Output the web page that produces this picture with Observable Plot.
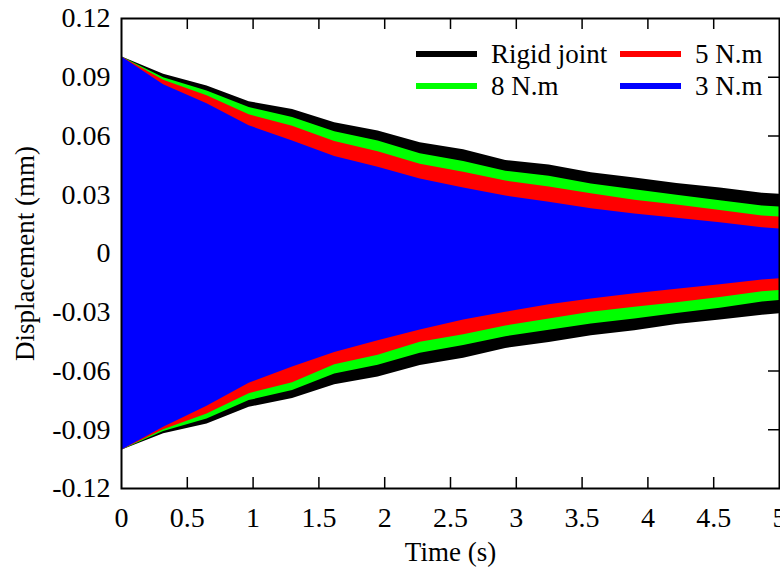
<!DOCTYPE html>
<html>
<head>
<meta charset="utf-8">
<script src="https://cdn.jsdelivr.net/npm/d3@7"></script>
<script src="https://cdn.jsdelivr.net/npm/@observablehq/plot@0.6"></script>
<style>
  html, body { margin: 0; padding: 0; background: #fff; }
  #wrap { position: relative; width: 780px; height: 567px; font-family: "Liberation Serif", "Times New Roman", serif; }
  .leg { position: absolute; display: flex; align-items: center; font-size: 27px; line-height: 1; color: #000; white-space: nowrap; }
  .leg .sw { width: 61px; height: 6px; margin-right: 14px; }
</style>
</head>
<body>
<div id="wrap"></div>
<script>
// Envelope sample times (s)
const time = [0, 0.32, 0.65, 0.97, 1.3, 1.62, 1.95, 2.27, 2.6, 2.92, 3.25, 3.57, 3.9, 4.22, 4.55, 4.87, 5];

// Upper / lower envelopes of the displacement (mm)
const rigidUpper = [0.1005, 0.0915, 0.0855, 0.0775, 0.0735, 0.0668, 0.0625, 0.0565, 0.0530, 0.0475, 0.0452, 0.0412, 0.0385, 0.0358, 0.0335, 0.0308, 0.0303];
const rigidLower = [-0.1005, -0.0921, -0.0870, -0.0785, -0.0740, -0.0670, -0.0630, -0.0572, -0.0535, -0.0485, -0.0455, -0.0420, -0.0395, -0.0362, -0.0340, -0.0315, -0.0308];
const n8Upper = [0.1005, 0.0897, 0.0830, 0.0745, 0.0695, 0.0622, 0.0575, 0.0510, 0.0470, 0.0420, 0.0395, 0.0355, 0.0325, 0.0298, 0.0270, 0.0243, 0.0237];
const n8Lower = [-0.1005, -0.0909, -0.0845, -0.0751, -0.0700, -0.0615, -0.0570, -0.0509, -0.0470, -0.0425, -0.0392, -0.0360, -0.0335, -0.0307, -0.0280, -0.0248, -0.0240];
const n5Upper = [0.1005, 0.0885, 0.0805, 0.0708, 0.0650, 0.0572, 0.0520, 0.0456, 0.0415, 0.0370, 0.0340, 0.0305, 0.0272, 0.0248, 0.0220, 0.0192, 0.0186];
const n5Lower = [-0.1005, -0.0900, -0.0820, -0.0716, -0.0660, -0.0568, -0.0520, -0.0453, -0.0415, -0.0370, -0.0335, -0.0300, -0.0275, -0.0252, -0.0225, -0.0195, -0.0189];
const n3Upper = [0.1005, 0.0862, 0.0765, 0.0652, 0.0575, 0.0495, 0.0440, 0.0380, 0.0335, 0.0293, 0.0262, 0.0228, 0.0202, 0.0180, 0.0157, 0.0132, 0.0125];
const n3Lower = [-0.1005, -0.0887, -0.0780, -0.0662, -0.0580, -0.0505, -0.0445, -0.0390, -0.0340, -0.0300, -0.0262, -0.0232, -0.0205, -0.0182, -0.0160, -0.0135, -0.0129];

const seriesNames = ["Rigid joint", "8 N.m", "5 N.m", "3 N.m"];
const seriesColors = ["#000000", "#00ff00", "#ff0000", "#0000ff"];
const xTicks = [0, 0.5, 1, 1.5, 2, 2.5, 3, 3.5, 4, 4.5, 5];
const yTicks = [-0.12, -0.09, -0.06, -0.03, 0, 0.03, 0.06, 0.09, 0.12];

const uppers = [rigidUpper, n8Upper, n5Upper, n3Upper];
const lowers = [rigidLower, n8Lower, n5Lower, n3Lower];
const rows = [];
seriesNames.forEach((name, s) => {
  time.forEach((t, i) => rows.push({series: name, t, hi: uppers[s][i], lo: lowers[s][i]}));
});

const font = '"Liberation Serif", "Times New Roman", serif';
const innerX = xTicks.slice(1, -1);
const innerY = yTicks.slice(1, -1);

const areas = seriesNames.map((name, s) =>
  Plot.areaY(rows.filter(r => r.series === name), {x: "t", y1: "lo", y2: "hi", fill: seriesColors[s], curve: "linear"})
);

const chart = Plot.plot({
  width: 780,
  height: 567,
  marginLeft: 121,
  marginRight: 1,
  marginTop: 18,
  marginBottom: 79,
  style: {fontFamily: font, fontSize: "27px", background: "white", color: "black", overflow: "visible"},
  x: {domain: [0, 5], label: null},
  y: {domain: [-0.12, 0.12], label: null},
  marks: [
    Plot.tickX(innerX, {x: d => d, insetTop: 459, stroke: "black", strokeWidth: 1.5}),
    Plot.tickX(innerX, {x: d => d, insetBottom: 459, stroke: "black", strokeWidth: 1.5}),
    Plot.tickY(innerY, {y: d => d, insetRight: 647, stroke: "black", strokeWidth: 1.5}),
    Plot.tickY(innerY, {y: d => d, insetLeft: 647, stroke: "black", strokeWidth: 1.5}),
    ...areas,
    Plot.frame({stroke: "black", strokeWidth: 2}),
    Plot.axisX({ticks: xTicks, tickSize: 0, tickPadding: 19, tickFormat: d => String(d), fontSize: 28, fontFamily: font, label: null}),
    Plot.axisY({ticks: yTicks, tickSize: 0, tickPadding: 11, tickFormat: d => d === 0 ? "0" : d.toFixed(2), fontSize: 28, fontFamily: font, label: null}),
    Plot.text(["Time (s)"], {frameAnchor: "bottom", dy: 64, lineAnchor: "middle", textAnchor: "middle", text: d => d, fontSize: 27, fontFamily: font}),
    Plot.text(["Displacement (mm)"], {frameAnchor: "left", dx: -96, rotate: -90, textAnchor: "middle", lineAnchor: "middle", text: d => d, fontSize: 27, fontFamily: font})
  ]
});

const wrap = document.getElementById("wrap");
wrap.appendChild(chart);

// Legend (inside the plot, top-right), built from the series arrays
const legendPos = [
  {left: 416, top: 54}, {left: 416, top: 86}, {left: 620, top: 54}, {left: 620, top: 86}
];
seriesNames.forEach((name, s) => {
  const item = document.createElement("div");
  item.className = "leg";
  item.style.left = legendPos[s].left + "px";
  item.style.top = (legendPos[s].top - 13) + "px";
  item.style.height = "26px";
  const sw = document.createElement("span");
  sw.className = "sw";
  sw.style.background = seriesColors[s];
  const lab = document.createElement("span");
  lab.textContent = name;
  item.appendChild(sw);
  item.appendChild(lab);
  wrap.appendChild(item);
});
</script>
</body>
</html>
